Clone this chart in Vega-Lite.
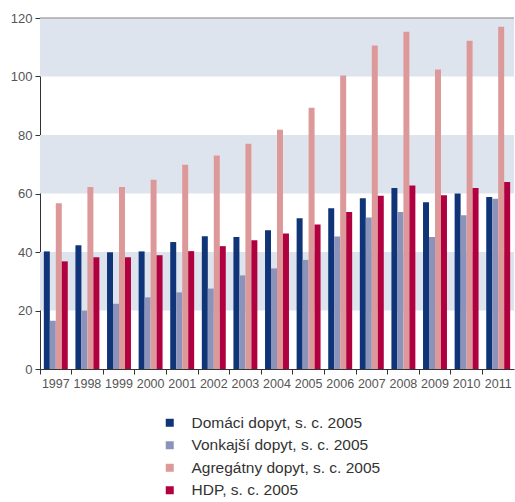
{
  "$schema": "https://vega.github.io/schema/vega-lite/v6.json",
  "width": 474,
  "height": 351,
  "autosize": {"type": "none"},
  "padding": {"left": 40, "top": 18, "right": 1, "bottom": 133},
  "background": "white",
  "config": {"view": {"stroke": null}, "font": "Liberation Sans"},
  "datasets": {
    "bands": [
      {"lo": 20, "hi": 40},
      {"lo": 60, "hi": 80},
      {"lo": 100, "hi": 120}
    ],
    "top": [{"v": 120}],
    "bars": [
      {"year": "1997", "series": "Domáci dopyt, s. c. 2005", "value": 40.2},
      {"year": "1997", "series": "Vonkajší dopyt, s. c. 2005", "value": 16.5},
      {"year": "1997", "series": "Agregátny dopyt, s. c. 2005", "value": 56.7},
      {"year": "1997", "series": "HDP, s. c. 2005", "value": 36.8},
      {"year": "1998", "series": "Domáci dopyt, s. c. 2005", "value": 42.3},
      {"year": "1998", "series": "Vonkajší dopyt, s. c. 2005", "value": 20.0},
      {"year": "1998", "series": "Agregátny dopyt, s. c. 2005", "value": 62.2},
      {"year": "1998", "series": "HDP, s. c. 2005", "value": 38.2},
      {"year": "1999", "series": "Domáci dopyt, s. c. 2005", "value": 39.9},
      {"year": "1999", "series": "Vonkajší dopyt, s. c. 2005", "value": 22.3},
      {"year": "1999", "series": "Agregátny dopyt, s. c. 2005", "value": 62.2},
      {"year": "1999", "series": "HDP, s. c. 2005", "value": 38.2},
      {"year": "2000", "series": "Domáci dopyt, s. c. 2005", "value": 40.2},
      {"year": "2000", "series": "Vonkajší dopyt, s. c. 2005", "value": 24.5},
      {"year": "2000", "series": "Agregátny dopyt, s. c. 2005", "value": 64.7},
      {"year": "2000", "series": "HDP, s. c. 2005", "value": 38.9},
      {"year": "2001", "series": "Domáci dopyt, s. c. 2005", "value": 43.4},
      {"year": "2001", "series": "Vonkajší dopyt, s. c. 2005", "value": 26.2},
      {"year": "2001", "series": "Agregátny dopyt, s. c. 2005", "value": 69.8},
      {"year": "2001", "series": "HDP, s. c. 2005", "value": 40.3},
      {"year": "2002", "series": "Domáci dopyt, s. c. 2005", "value": 45.4},
      {"year": "2002", "series": "Vonkajší dopyt, s. c. 2005", "value": 27.5},
      {"year": "2002", "series": "Agregátny dopyt, s. c. 2005", "value": 73.0},
      {"year": "2002", "series": "HDP, s. c. 2005", "value": 42.0},
      {"year": "2003", "series": "Domáci dopyt, s. c. 2005", "value": 45.1},
      {"year": "2003", "series": "Vonkajší dopyt, s. c. 2005", "value": 32.0},
      {"year": "2003", "series": "Agregátny dopyt, s. c. 2005", "value": 77.0},
      {"year": "2003", "series": "HDP, s. c. 2005", "value": 44.0},
      {"year": "2004", "series": "Domáci dopyt, s. c. 2005", "value": 47.4},
      {"year": "2004", "series": "Vonkajší dopyt, s. c. 2005", "value": 34.4},
      {"year": "2004", "series": "Agregátny dopyt, s. c. 2005", "value": 81.8},
      {"year": "2004", "series": "HDP, s. c. 2005", "value": 46.3},
      {"year": "2005", "series": "Domáci dopyt, s. c. 2005", "value": 51.5},
      {"year": "2005", "series": "Vonkajší dopyt, s. c. 2005", "value": 37.3},
      {"year": "2005", "series": "Agregátny dopyt, s. c. 2005", "value": 89.3},
      {"year": "2005", "series": "HDP, s. c. 2005", "value": 49.4},
      {"year": "2006", "series": "Domáci dopyt, s. c. 2005", "value": 55.0},
      {"year": "2006", "series": "Vonkajší dopyt, s. c. 2005", "value": 45.3},
      {"year": "2006", "series": "Agregátny dopyt, s. c. 2005", "value": 100.3},
      {"year": "2006", "series": "HDP, s. c. 2005", "value": 53.7},
      {"year": "2007", "series": "Domáci dopyt, s. c. 2005", "value": 58.4},
      {"year": "2007", "series": "Vonkajší dopyt, s. c. 2005", "value": 51.8},
      {"year": "2007", "series": "Agregátny dopyt, s. c. 2005", "value": 110.6},
      {"year": "2007", "series": "HDP, s. c. 2005", "value": 59.2},
      {"year": "2008", "series": "Domáci dopyt, s. c. 2005", "value": 61.9},
      {"year": "2008", "series": "Vonkajší dopyt, s. c. 2005", "value": 53.7},
      {"year": "2008", "series": "Agregátny dopyt, s. c. 2005", "value": 115.3},
      {"year": "2008", "series": "HDP, s. c. 2005", "value": 62.7},
      {"year": "2009", "series": "Domáci dopyt, s. c. 2005", "value": 57.0},
      {"year": "2009", "series": "Vonkajší dopyt, s. c. 2005", "value": 45.1},
      {"year": "2009", "series": "Agregátny dopyt, s. c. 2005", "value": 102.4},
      {"year": "2009", "series": "HDP, s. c. 2005", "value": 59.4},
      {"year": "2010", "series": "Domáci dopyt, s. c. 2005", "value": 60.0},
      {"year": "2010", "series": "Vonkajší dopyt, s. c. 2005", "value": 52.6},
      {"year": "2010", "series": "Agregátny dopyt, s. c. 2005", "value": 112.2},
      {"year": "2010", "series": "HDP, s. c. 2005", "value": 61.9},
      {"year": "2011", "series": "Domáci dopyt, s. c. 2005", "value": 58.8},
      {"year": "2011", "series": "Vonkajší dopyt, s. c. 2005", "value": 58.2},
      {"year": "2011", "series": "Agregátny dopyt, s. c. 2005", "value": 117.0},
      {"year": "2011", "series": "HDP, s. c. 2005", "value": 63.9}
    ]
  },
  "layer": [
    {
      "data": {"name": "bands"},
      "mark": {"type": "rect", "color": "#dee4ee"},
      "encoding": {
        "y": {"field": "lo", "type": "quantitative", "scale": {"domain": [0, 120], "nice": false}},
        "y2": {"field": "hi"}
      }
    },
    {
      "data": {"name": "top"},
      "mark": {"type": "rule", "color": "#aaaaaa", "strokeWidth": 1.5},
      "encoding": {
        "y": {"field": "v", "type": "quantitative"}
      }
    },
    {
      "data": {"name": "bars"},
      "mark": {"type": "bar"},
      "encoding": {
        "x": {
          "field": "year", "type": "nominal", "title": null,
          "scale": {"paddingInner": 0, "paddingOuter": 0},
          "axis": {
            "labelAngle": 0, "bandPosition": 0, "domainColor": "#333333", "tickColor": "#333333",
            "tickSize": 5, "labelColor": "#555555", "labelFontSize": 12.5, "labelPadding": 3,
            "labelOverlap": false, "grid": false, "labelBound": false
          }
        },
        "xOffset": {
          "field": "series", "type": "nominal",
          "sort": ["Domáci dopyt, s. c. 2005", "Vonkajší dopyt, s. c. 2005", "Agregátny dopyt, s. c. 2005", "HDP, s. c. 2005"],
          "scale": {"paddingInner": 0, "paddingOuter": 0.64}
        },
        "y": {
          "field": "value", "type": "quantitative", "title": null,
          "scale": {"domain": [0, 120], "nice": false},
          "axis": {
            "values": [0, 20, 40, 60, 80, 100, 120], "grid": false, "domainColor": "#333333",
            "tickColor": "#333333", "tickSize": 5, "labelColor": "#555555", "labelFontSize": 13, "labelPadding": 3
          }
        },
        "color": {
          "field": "series", "type": "nominal",
          "sort": ["Domáci dopyt, s. c. 2005", "Vonkajší dopyt, s. c. 2005", "Agregátny dopyt, s. c. 2005", "HDP, s. c. 2005"],
          "scale": {
            "domain": ["Domáci dopyt, s. c. 2005", "Vonkajší dopyt, s. c. 2005", "Agregátny dopyt, s. c. 2005", "HDP, s. c. 2005"],
            "range": ["#0f3478", "#8c93bb", "#dd9999", "#b0003f"]
          },
          "legend": {
            "title": null, "orient": "none", "legendX": 122, "legendY": 397,
            "symbolType": "square", "symbolSize": 64, "symbolStrokeWidth": 0,
            "labelFontSize": 15.5, "labelColor": "#333333", "rowPadding": 5.5, "labelOffset": 14,
            "labelLimit": 400
          }
        }
      }
    }
  ]
}
